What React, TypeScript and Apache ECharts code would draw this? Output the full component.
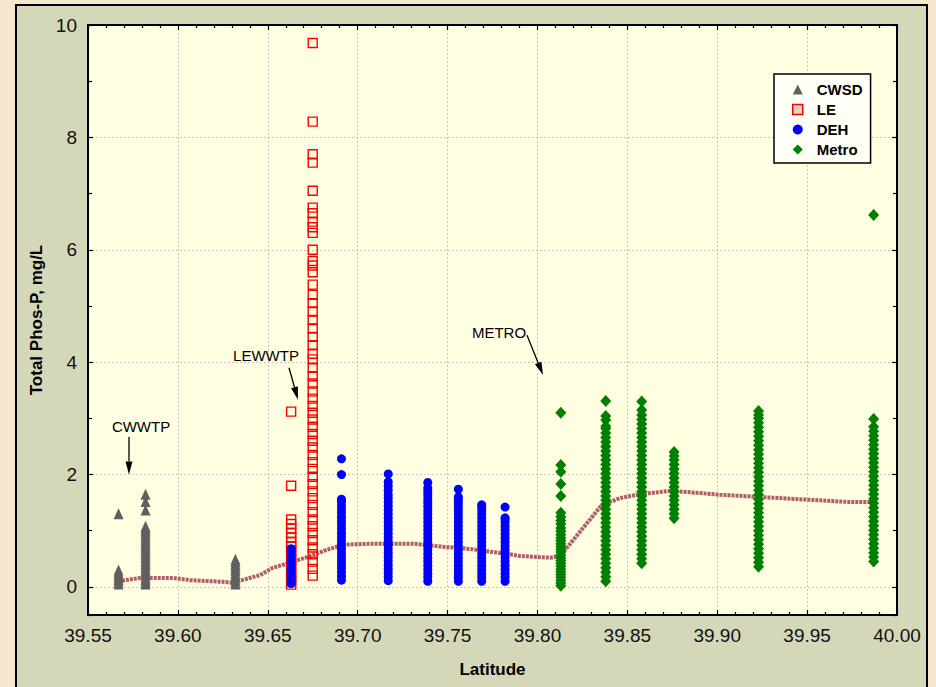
import React, { useEffect, useRef } from 'react';
import * as echarts from 'echarts';

// ---------- Data ----------
// CWSD columns (latitude, Total Phos-P values)
const cwsdLats = [39.567, 39.582, 39.632];
const cwsdCol1 = [0.05, 0.09, 0.13, 0.17, 0.21, 0.25, 0.3, 1.3];
const cwsdCol2 = [0.05, 0.09, 0.13, 0.17, 0.21, 0.25, 0.29, 0.33, 0.37, 0.41, 0.45, 0.49, 0.53, 0.57, 0.61, 0.65, 0.69, 0.73, 0.77, 0.81, 0.85, 0.89, 0.93, 0.97, 1.01, 1.05, 1.08, 1.37, 1.52, 1.65];
const cwsdCol3 = [0.05, 0.09, 0.13, 0.17, 0.21, 0.25, 0.29, 0.33, 0.37, 0.41, 0.45, 0.49];

// LE columns
const leLats = [39.663, 39.675];
const leCol1 = [0.04, 0.1, 0.17, 0.24, 0.32, 0.4, 0.48, 0.56, 0.64, 0.72, 0.8, 0.88, 0.96, 1.04, 1.12, 1.2, 1.8, 3.12];
const leCol2 = [0.2, 0.32, 0.45, 0.58, 0.7, 0.83, 0.96, 1.08, 1.2, 1.33, 1.46, 1.58, 1.7, 1.83, 1.96, 2.1, 2.22, 2.35, 2.48, 2.6, 2.72, 2.85, 2.98, 3.1, 3.22, 3.35, 3.48, 3.62, 3.75, 3.9, 4.05, 4.15, 4.3, 4.45, 4.6, 4.75, 4.9, 5.05, 5.2, 5.38, 5.6, 5.72, 5.8, 6.0, 6.3, 6.4, 6.5, 6.65, 6.75, 7.05, 7.55, 7.7, 8.28, 9.68];

// DEH columns
const dehLats = [39.663, 39.691, 39.717, 39.739, 39.756, 39.769, 39.782];
const dehCol1 = [0.06, 0.12, 0.18, 0.24, 0.3, 0.36, 0.42, 0.48, 0.55, 0.62, 0.68];
const dehCol2 = [0.12, 0.19, 0.26, 0.33, 0.4, 0.47, 0.54, 0.61, 0.68, 0.75, 0.82, 0.89, 0.96, 1.03, 1.1, 1.17, 1.24, 1.31, 1.38, 1.45, 1.52, 1.56, 2.0, 2.28];
const dehCol3 = [0.11, 0.18, 0.25, 0.32, 0.39, 0.46, 0.53, 0.6, 0.67, 0.74, 0.81, 0.88, 0.95, 1.02, 1.09, 1.16, 1.23, 1.3, 1.37, 1.44, 1.51, 1.58, 1.64, 1.72, 1.8, 1.87, 2.01];
const dehCol4 = [0.1, 0.17, 0.24, 0.31, 0.38, 0.45, 0.52, 0.59, 0.66, 0.73, 0.8, 0.87, 0.94, 1.01, 1.08, 1.15, 1.22, 1.29, 1.36, 1.43, 1.5, 1.57, 1.64, 1.7, 1.76, 1.86];
const dehCol5 = [0.1, 0.17, 0.24, 0.31, 0.38, 0.45, 0.52, 0.59, 0.66, 0.73, 0.8, 0.87, 0.94, 1.01, 1.08, 1.15, 1.22, 1.29, 1.36, 1.43, 1.5, 1.56, 1.6, 1.74];
const dehCol6 = [0.1, 0.17, 0.24, 0.31, 0.38, 0.45, 0.52, 0.59, 0.66, 0.73, 0.8, 0.87, 0.94, 1.01, 1.08, 1.15, 1.22, 1.29, 1.36, 1.42, 1.46];
const dehCol7 = [0.1, 0.17, 0.24, 0.31, 0.38, 0.45, 0.52, 0.59, 0.66, 0.73, 0.8, 0.87, 0.94, 1.01, 1.08, 1.15, 1.2, 1.23, 1.42];

// Metro columns
const metroLats = [39.813, 39.838, 39.858, 39.876, 39.923, 39.987];
const metroCol1 = [0.02, 0.07, 0.12, 0.17, 0.22, 0.27, 0.32, 0.37, 0.42, 0.47, 0.52, 0.57, 0.62, 0.67, 0.72, 0.77, 0.82, 0.87, 0.93, 0.99, 1.05, 1.12, 1.18, 1.25, 1.32, 1.62, 1.83, 2.05, 2.17, 3.1];
const metroCol2 = [0.1, 0.18, 0.26, 0.34, 0.42, 0.5, 0.58, 0.66, 0.74, 0.82, 0.9, 0.98, 1.06, 1.14, 1.22, 1.3, 1.38, 1.46, 1.54, 1.62, 1.7, 1.78, 1.86, 1.94, 2.02, 2.1, 2.18, 2.26, 2.34, 2.42, 2.5, 2.58, 2.66, 2.74, 2.82, 2.86, 2.97, 3.04, 3.31];
const metroCol3 = [0.42, 0.5, 0.58, 0.66, 0.74, 0.82, 0.9, 0.98, 1.06, 1.14, 1.22, 1.3, 1.38, 1.46, 1.54, 1.62, 1.7, 1.78, 1.86, 1.94, 2.02, 2.1, 2.18, 2.26, 2.34, 2.42, 2.5, 2.58, 2.66, 2.74, 2.82, 2.9, 2.98, 3.06, 3.15, 3.3];
const metroCol4 = [1.22, 1.3, 1.38, 1.46, 1.54, 1.62, 1.7, 1.78, 1.86, 1.94, 2.02, 2.1, 2.18, 2.26, 2.33, 2.4];
const metroCol5 = [0.36, 0.44, 0.52, 0.6, 0.68, 0.76, 0.84, 0.92, 1.0, 1.08, 1.16, 1.24, 1.32, 1.4, 1.48, 1.56, 1.64, 1.72, 1.8, 1.88, 1.96, 2.04, 2.12, 2.2, 2.28, 2.36, 2.44, 2.52, 2.6, 2.68, 2.76, 2.84, 2.92, 3.0, 3.06, 3.13];
const metroCol6 = [0.45, 0.53, 0.61, 0.69, 0.77, 0.85, 0.93, 1.01, 1.09, 1.17, 1.25, 1.33, 1.41, 1.49, 1.57, 1.65, 1.73, 1.81, 1.89, 1.97, 2.05, 2.13, 2.21, 2.29, 2.37, 2.45, 2.53, 2.61, 2.69, 2.77, 2.85, 2.99, 6.62];

// Smoothed trend line
const trendLat = [39.5667, 39.5789, 39.5973, 39.6067, 39.6251, 39.6317, 39.6345, 39.6457, 39.6529, 39.6624, 39.6718, 39.6829, 39.6918, 39.7085, 39.7308, 39.7458, 39.7641, 39.7753, 39.7831, 39.7903, 39.807, 39.8126, 39.8359, 39.8459, 39.857, 39.8743, 39.8904, 39.9015, 39.9238, 39.9405, 39.9572, 39.9739, 39.9869];
const trendVal = [0.1, 0.16, 0.16, 0.12, 0.09, 0.07, 0.11, 0.21, 0.34, 0.43, 0.53, 0.66, 0.75, 0.77, 0.77, 0.72, 0.67, 0.62, 0.59, 0.55, 0.52, 0.55, 1.46, 1.58, 1.65, 1.71, 1.67, 1.64, 1.6, 1.57, 1.54, 1.51, 1.51];

// Annotations (data coordinates)
const annotationTexts = ['CWWTP', 'LEWWTP', 'METRO'];
const annotationTextAt = [[39.5795, 2.85], [39.649, 4.11], [39.7786, 4.52]];
const annotationFrom = [[39.5728, 2.67], [39.6618, 3.9], [39.7942, 4.48]];
const annotationTo = [[39.5728, 2.0], [39.6668, 3.33], [39.8031, 3.77]];

const toPairs = (lats: number[], cols: number[][]) => {
  const out: number[][] = [];
  cols.forEach((col, i) => col.forEach((v) => out.push([lats[i], v])));
  return out;
};

const FONT = 'Liberation Sans, Arial, sans-serif';

export default function App() {
  const ref = useRef<HTMLDivElement>(null);

  useEffect(() => {
    const chart = echarts.init(ref.current!, null, { renderer: 'svg' });

    const axisLineStyle = { color: '#000', width: 2 };
    const tickStyle = { color: '#000', width: 1.2 };
    const gridLine = { show: true, lineStyle: { color: '#c6c6c6', type: [2, 2] as any, width: 1 } };

    const option: any = {
      animation: false,
      backgroundColor: 'transparent',
      textStyle: { fontFamily: FONT },
      grid: { left: 88, top: 25, width: 809, height: 590, show: true, backgroundColor: '#fffee1', borderWidth: 0, outerBoundsMode: 'none', containLabel: false },
      legend: {
        data: [
          { name: 'CWSD', itemStyle: { color: '#5f5f5f' } },
          { name: 'LE', itemStyle: { color: '#dad7c7', borderColor: '#ff0000', borderWidth: 1.5 } },
          { name: 'DEH', itemStyle: { color: '#0000ff' } },
          { name: 'Metro', itemStyle: { color: '#008000' } },
        ],
        orient: 'vertical',
        left: 774,
        top: 74,
        padding: [8, 8, 6, 18],
        itemGap: 5,
        itemWidth: 10,
        itemHeight: 10,
        backgroundColor: '#fffff6',
        borderColor: '#000',
        borderWidth: 1.5,
        borderRadius: 0,
        textStyle: { fontFamily: FONT, fontSize: 15, fontWeight: 'bold', color: '#000', lineHeight: 15, padding: [0, 0, 0, 9] },
      },
      xAxis: [
        {
          type: 'value', position: 'bottom', min: 39.55, max: 40.0, interval: 0.05,
          axisLine: { show: true, onZero: false, lineStyle: axisLineStyle },
          axisTick: { show: true, inside: true, length: 5, lineStyle: tickStyle },
          minorTick: { show: true, splitNumber: 5, length: 3, lineStyle: tickStyle },
          axisLabel: { formatter: (v: number) => v.toFixed(2), fontSize: 19, color: '#111', margin: 11, fontFamily: FONT },
          splitLine: gridLine,
          name: 'Latitude', nameLocation: 'middle', nameGap: 46,
          nameTextStyle: { fontFamily: FONT, fontSize: 17, fontWeight: 'bold', color: '#000' },
        },
        {
          type: 'value', position: 'top', min: 39.55, max: 40.0, interval: 0.05,
          axisLine: { show: true, onZero: false, lineStyle: axisLineStyle },
          axisTick: { show: true, inside: true, length: 5, lineStyle: tickStyle },
          minorTick: { show: true, splitNumber: 5, length: 3, lineStyle: tickStyle },
          axisLabel: { show: false },
          splitLine: { show: false },
        },
      ],
      yAxis: [
        {
          type: 'value', position: 'left', min: -0.5, max: 10, splitNumber: 5,
          axisLine: { show: true, onZero: false, lineStyle: axisLineStyle },
          axisTick: { show: true, inside: true, length: 5, lineStyle: tickStyle },
          minorTick: { show: true, splitNumber: 2, length: 4, lineStyle: tickStyle },
          axisLabel: { formatter: (v: number) => (v < 0 ? '' : String(Math.round(v))), fontSize: 19, color: '#111', margin: 11, fontFamily: FONT },
          splitLine: gridLine,
          name: 'Total Phos-P, mg/L', nameLocation: 'middle', nameGap: 43,
          nameTextStyle: { fontFamily: FONT, fontSize: 17, fontWeight: 'bold', color: '#000' },
        },
        {
          type: 'value', position: 'right', min: -0.5, max: 10, splitNumber: 5,
          axisLine: { show: true, onZero: false, lineStyle: axisLineStyle },
          axisTick: { show: true, inside: true, length: 5, lineStyle: tickStyle },
          minorTick: { show: true, splitNumber: 2, length: 4, lineStyle: tickStyle },
          axisLabel: { show: false },
          splitLine: { show: false },
        },
      ],
      series: [
        {
          type: 'line', name: 'trend', xAxisIndex: 0, yAxisIndex: 0,
          data: trendLat.map((x, i) => [x, trendVal[i]]),
          symbol: 'none', showSymbol: false, silent: true, z: 1,
          lineStyle: { color: '#b05d67', width: 4, type: [3, 1] },
        },
        {
          type: 'scatter', name: 'CWSD', xAxisIndex: 0, yAxisIndex: 0,
          symbol: 'triangle', symbolSize: [10, 11],
          itemStyle: { color: '#5f5f5f', opacity: 1 },
          data: toPairs(cwsdLats, [cwsdCol1, cwsdCol2, cwsdCol3]),
        },
        {
          type: 'scatter', name: 'LE', xAxisIndex: 0, yAxisIndex: 0,
          symbol: 'rect', symbolSize: 9,
          itemStyle: { color: 'rgba(255,255,255,0)', borderColor: '#ff0000', borderWidth: 1.4, opacity: 1 },
          data: toPairs(leLats, [leCol1, leCol2]),
        },
        {
          type: 'scatter', name: 'DEH', xAxisIndex: 0, yAxisIndex: 0,
          symbol: 'circle', symbolSize: 9,
          itemStyle: { color: '#0000ff', opacity: 1 },
          data: toPairs(dehLats, [dehCol1, dehCol2, dehCol3, dehCol4, dehCol5, dehCol6, dehCol7]),
        },
        {
          type: 'scatter', name: 'Metro', xAxisIndex: 0, yAxisIndex: 0,
          symbol: 'diamond', symbolSize: [11, 12],
          itemStyle: { color: '#008000', opacity: 1 },
          data: toPairs(metroLats, [metroCol1, metroCol2, metroCol3, metroCol4, metroCol5, metroCol6]),
        },
      ],
    };

    chart.setOption(option);

    const px = (p: number[]) => chart.convertToPixel({ xAxisIndex: 0, yAxisIndex: 0 } as any, p) as number[];
    const graphics: any[] = [];
    annotationTexts.forEach((t, i) => {
      const tp = px(annotationTextAt[i]);
      const a = px(annotationFrom[i]);
      const b = px(annotationTo[i]);
      graphics.push({
        type: 'text', x: tp[0], y: tp[1], z: 100,
        style: { text: t, font: `15px ${FONT}`, fill: '#000', align: 'center', verticalAlign: 'middle' },
      });
      const dx = b[0] - a[0];
      const dy = b[1] - a[1];
      const len = Math.hypot(dx, dy);
      const ux = dx / len;
      const uy = dy / len;
      const bx = b[0] - ux * 13;
      const by = b[1] - uy * 13;
      const nx = -uy * 3.5;
      const ny = ux * 3.5;
      graphics.push({
        type: 'line', z: 100,
        shape: { x1: a[0], y1: a[1], x2: bx, y2: by },
        style: { stroke: '#000', lineWidth: 1.3 },
      });
      graphics.push({
        type: 'polygon', z: 100,
        shape: { points: [[b[0], b[1]], [bx + nx, by + ny], [bx - nx, by - ny]] },
        style: { fill: '#000' },
      });
    });
    chart.setOption({ graphic: graphics });

    return () => chart.dispose();
  }, []);

  return (
    <div style={{ position: 'fixed', left: 0, top: 0, width: 936, height: 687, background: '#f6e6cd', overflow: 'hidden' }}>
      <div style={{ position: 'absolute', left: 15, top: 4, width: 913, height: 700, background: '#d4d8b9', border: '2px solid #000', boxSizing: 'border-box' }} />
      <div ref={ref} style={{ position: 'absolute', left: 0, top: 0, width: 936, height: 687 }} />
    </div>
  );
}
